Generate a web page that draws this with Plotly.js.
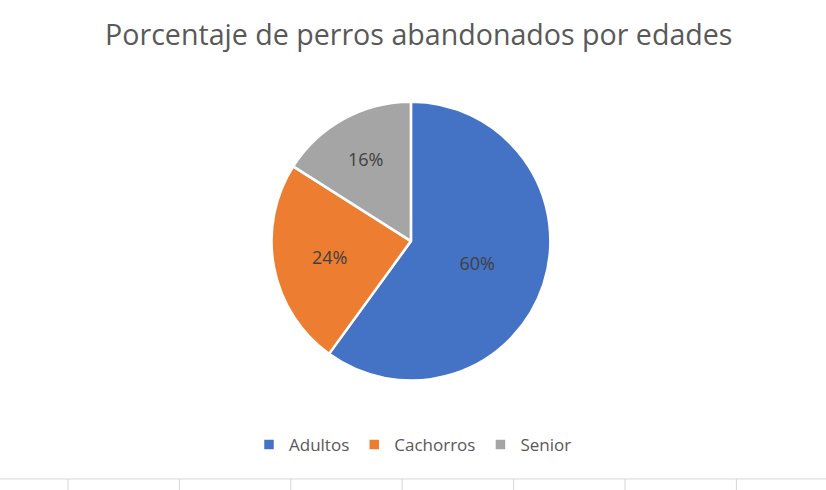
<!DOCTYPE html>
<html>
<head>
<meta charset="utf-8">
<script src="https://cdn.plot.ly/plotly-3.0.1.min.js"></script>
<style>
  html, body { margin: 0; padding: 0; background: #fff; }
  #chart { width: 826px; height: 490px; }
</style>
</head>
<body>
<div id="chart"></div>
<script>
const labels = ["Adultos", "Cachorros", "Senior"];
const values = [60, 24, 16];
const colors = ["#4472C4", "#ED7D31", "#A5A5A5"];

// spreadsheet cell borders under the chart
let shapes = [{
  type: "line", xref: "paper", yref: "paper",
  x0: 0, x1: 1, y0: 0.0225, y1: 0.0225,
  line: { color: "#d6d6d6", width: 1 }
}];
for (let gx = 68; gx < 826; gx += 111.4) {
  shapes.push({
    type: "line", xref: "paper", yref: "paper",
    x0: gx / 826, x1: gx / 826, y0: 0, y1: 0.0225,
    line: { color: "#d6d6d6", width: 1 }
  });
}

let data = [
  {
    type: "pie",
    labels: labels,
    values: values,
    sort: false,
    direction: "clockwise",
    rotation: 0,
    marker: { colors: colors, line: { color: "#ffffff", width: 2.5 } },
    textinfo: "percent",
    texttemplate: "%{percent:.0%}",
    textposition: "inside",
    insidetextorientation: "horizontal",
    textfont: { family: "Open Sans, sans-serif", size: 18, color: "#404040" },
    hoverinfo: "label+percent",
    domain: { x: [0.2, 0.795], y: [0.2235, 0.7925] }
  }
];

let layout = {
  width: 826,
  height: 490,
  margin: { l: 0, r: 0, t: 0, b: 0 },
  paper_bgcolor: "#ffffff",
  title: {
    text: "Porcentaje de perros abandonados por edades",
    x: 0.507, xanchor: "center",
    y: 0.929, yanchor: "middle",
    font: { family: "Open Sans, sans-serif", size: 28.6, color: "#595959" }
  },
  showlegend: true,
  legend: {
    orientation: "h",
    x: 0.5, xanchor: "center",
    y: 0.092, yanchor: "middle",
    font: { family: "Open Sans, sans-serif", size: 17, color: "#595959" },
    itemwidth: 30,
    traceorder: "normal"
  },
  shapes: shapes
};

Plotly.newPlot("chart", data, layout, { displayModeBar: false, staticPlot: true });
</script>
</body>
</html>
